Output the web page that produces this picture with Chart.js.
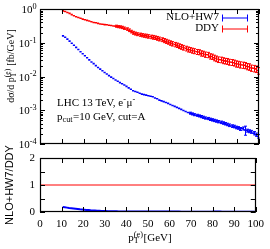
<!DOCTYPE html>
<html>
<head>
<meta charset="utf-8">
<script src="https://cdn.jsdelivr.net/npm/chart.js@4/dist/chart.umd.min.js"></script>
<style>
  html, body { margin: 0; padding: 0; background: #fff; }
  #wrap { position: relative; width: 270px; height: 249px; overflow: hidden; }
  canvas { position: absolute; left: 0; }
  #topChart { top: 0; }
  #ratioChart { top: 130px; }
</style>
</head>
<body>
<div id="wrap">
  <canvas id="topChart" width="270" height="150"></canvas>
  <canvas id="ratioChart" width="270" height="119"></canvas>
</div>
<script>
// bin centres in p_T(e) [GeV], 1 GeV bins from 10 to 100
var ptBins = [10.5, 11.5, 12.5, 13.5, 14.5, 15.5, 16.5, 17.5, 18.5, 19.5,
              20.5, 21.5, 22.5, 23.5, 24.5, 25.5, 26.5, 27.5, 28.5, 29.5,
              30.5, 31.5, 32.5, 33.5, 34.5, 35.5, 36.5, 37.5, 38.5, 39.5,
              40.5, 41.5, 42.5, 43.5, 44.5, 45.5, 46.5, 47.5, 48.5, 49.5,
              50.5, 51.5, 52.5, 53.5, 54.5, 55.5, 56.5, 57.5, 58.5, 59.5,
              60.5, 61.5, 62.5, 63.5, 64.5, 65.5, 66.5, 67.5, 68.5, 69.5,
              70.5, 71.5, 72.5, 73.5, 74.5, 75.5, 76.5, 77.5, 78.5, 79.5,
              80.5, 81.5, 82.5, 83.5, 84.5, 85.5, 86.5, 87.5, 88.5, 89.5,
              90.5, 91.5, 92.5, 93.5, 94.5, 95.5, 96.5, 97.5, 98.5, 99.5];

// DDY  dsigma/dpT [fb/GeV]
var ddyValues = [0.88, 0.84, 0.79, 0.74, 0.68, 0.63, 0.59, 0.56, 0.53, 0.50,
                 0.48, 0.46, 0.44, 0.42, 0.40, 0.39, 0.375, 0.36, 0.355, 0.345,
                 0.34, 0.33, 0.325, 0.315, 0.31, 0.30, 0.295, 0.285, 0.27, 0.255,
                 0.235, 0.215, 0.198, 0.188, 0.18, 0.174, 0.168, 0.163, 0.16, 0.155,
                 0.15, 0.146, 0.142, 0.136, 0.13, 0.124, 0.117, 0.111, 0.105, 0.099,
                 0.094, 0.089, 0.085, 0.080, 0.076, 0.072, 0.068, 0.064, 0.062, 0.059,
                 0.057, 0.054, 0.053, 0.049, 0.048, 0.045, 0.044, 0.040, 0.039, 0.036,
                 0.034, 0.032, 0.0315, 0.030, 0.029, 0.0285, 0.027, 0.0265, 0.0255, 0.024,
                 0.0235, 0.0225, 0.022, 0.0215, 0.020, 0.0195, 0.018, 0.0175, 0.0168, 0.015];
// relative errors of DDY
var ddyErrors = [0.02, 0.02, 0.02, 0.025, 0.025, 0.025, 0.03, 0.03, 0.03, 0.035,
                 0.035, 0.04, 0.04, 0.04, 0.045, 0.045, 0.05, 0.05, 0.05, 0.055,
                 0.06, 0.06, 0.065, 0.06, 0.07, 0.07, 0.075, 0.08, 0.08, 0.085,
                 0.09, 0.09, 0.1, 0.1, 0.1, 0.11, 0.11, 0.11, 0.12, 0.12,
                 0.12, 0.13, 0.12, 0.13, 0.13, 0.13, 0.14, 0.14, 0.14, 0.15,
                 0.15, 0.15, 0.15, 0.16, 0.16, 0.16, 0.16, 0.17, 0.16, 0.17,
                 0.17, 0.17, 0.17, 0.18, 0.17, 0.18, 0.18, 0.18, 0.18, 0.19,
                 0.19, 0.19, 0.19, 0.2, 0.19, 0.2, 0.2, 0.2, 0.2, 0.21,
                 0.2, 0.21, 0.21, 0.21, 0.21, 0.22, 0.21, 0.22, 0.22, 0.22];

// NLO+HW7  dsigma/dpT [fb/GeV]
var nloValues = [0.16, 0.145, 0.128, 0.112, 0.097, 0.084, 0.073, 0.063, 0.054, 0.047,
                 0.041, 0.036, 0.031, 0.027, 0.024, 0.021, 0.0185, 0.0165, 0.0148, 0.0132,
                 0.0118, 0.0106, 0.0096, 0.0087, 0.0079, 0.0072, 0.0066, 0.0061, 0.0056, 0.0051,
                 0.0046, 0.0042, 0.0038, 0.0036, 0.0034, 0.0032, 0.0030, 0.0029, 0.0028, 0.0027,
                 0.0026, 0.0025, 0.0023, 0.0022, 0.0020, 0.0019, 0.0018, 0.0017, 0.0016, 0.00148,
                 0.00138, 0.0013, 0.00122, 0.00114, 0.00106, 0.00098, 0.00092, 0.00086, 0.00082, 0.00078,
                 0.00074, 0.00071, 0.00068, 0.00065, 0.00062, 0.00059, 0.00057, 0.00054, 0.00052, 0.0005,
                 0.00048, 0.00046, 0.00044, 0.00042, 0.0004, 0.00038, 0.00036, 0.00034, 0.00033, 0.00031,
                 0.0003, 0.00028, 0.00029, 0.00026, 0.00025, 0.00024, 0.00023, 0.00021, 0.00019, 0.00017];
// relative errors of NLO+HW7
var nloErrors = [0.01, 0.01, 0.01, 0.01, 0.01, 0.01, 0.01, 0.015, 0.015, 0.015,
                 0.015, 0.015, 0.02, 0.02, 0.02, 0.02, 0.02, 0.02, 0.025, 0.025,
                 0.025, 0.025, 0.03, 0.03, 0.03, 0.03, 0.03, 0.035, 0.035, 0.035,
                 0.035, 0.04, 0.04, 0.04, 0.04, 0.04, 0.045, 0.045, 0.045, 0.045,
                 0.05, 0.05, 0.05, 0.05, 0.05, 0.055, 0.055, 0.055, 0.055, 0.06,
                 0.06, 0.06, 0.06, 0.06, 0.065, 0.065, 0.065, 0.065, 0.07, 0.07,
                 0.07, 0.07, 0.07, 0.075, 0.075, 0.075, 0.075, 0.08, 0.08, 0.08,
                 0.08, 0.08, 0.085, 0.085, 0.085, 0.085, 0.09, 0.09, 0.09, 0.09,
                 0.09, 0.1, 0.1, 0.3, 0.1, 0.1, 0.1, 0.11, 0.11, 0.12];

// reference line of the ratio panel (DDY/DDY)
var ddyRatioX = [0, 100];
var ddyRatio = [1, 1];

var xTickValues = [0, 10, 20, 30, 40, 50, 60, 70, 80, 90, 100];
var logDecades = [-4, -3, -2, -1, 0];
var ratioTicks = [0, 0.5, 1, 1.5, 2];

var RED = "rgb(255,0,0)";
var BLUE = "rgb(0,0,255)";
var SERIF = "'Liberation Serif', 'DejaVu Serif', serif";
var SANS = "'Liberation Sans', 'DejaVu Sans', sans-serif";

// text with sub/superscripts: strings are normal, {u:..} sup, {d:..} sub, both stacked
function partWidth(ctx, p, size, fam) {
    if (typeof p === "string") {
        ctx.font = size + "px " + fam;
        return ctx.measureText(p).width;
    }
    ctx.font = (size * 0.75) + "px " + fam;
    var w = 0;
    if (p.u) w = Math.max(w, ctx.measureText(p.u).width);
    if (p.d) w = Math.max(w, ctx.measureText(p.d).width);
    return w + 0.5;
}

function drawRich(ctx, parts, x, y, size, fam, align) {
    var total = 0;
    parts.forEach(function(p) { total += partWidth(ctx, p, size, fam); });
    var cx = x;
    if (align === "center") cx = x - total / 2;
    if (align === "right") cx = x - total;
    ctx.textAlign = "left";
    ctx.textBaseline = "alphabetic";
    parts.forEach(function(p) {
        var w = partWidth(ctx, p, size, fam);
        if (typeof p === "string") {
            ctx.font = size + "px " + fam;
            ctx.fillText(p, cx, y);
        } else {
            ctx.font = (size * 0.75) + "px " + fam;
            if (p.u) ctx.fillText(p.u, cx, y - size * 0.38);
            if (p.d) ctx.fillText(p.d, cx, y + size * 0.22);
        }
        cx += w;
    });
}

function hline(ctx, x0, y0, x1, y1) {
    ctx.beginPath();
    ctx.moveTo(x0, y0);
    ctx.lineTo(x1, y1);
    ctx.stroke();
}

// gnuplot-like box with inward ticks on all four sides
function drawFrame(chart, yTicks) {
    var ctx = chart.ctx, a = chart.chartArea, xs = chart.scales.x, ys = chart.scales.y;
    ctx.save();
    ctx.strokeStyle = "#000";
    ctx.lineWidth = 1;
    xTickValues.forEach(function(v) {
        var p = Math.round(xs.getPixelForValue(v)) + 0.5;
        hline(ctx, p, a.bottom, p, a.bottom - 5);
        hline(ctx, p, a.top, p, a.top + 5);
    });
    yTicks.forEach(function(t) {
        var p = Math.round(ys.getPixelForValue(t[0])) + 0.5;
        hline(ctx, a.left, p, a.left + t[1], p);
        hline(ctx, a.right, p, a.right - t[1], p);
    });
    ctx.lineWidth = 1.2;
    ctx.strokeRect(Math.round(a.left) + 0.5, Math.round(a.top) + 0.5,
                   Math.round(a.right - a.left) - 1, Math.round(a.bottom - a.top) - 1);
    ctx.restore();
}

// bins drawn as short horizontal lines broken between bins
function binSegments(values) {
    var pts = [];
    ptBins.forEach(function(c, i) {
        pts.push({x: c - 0.5, y: values[i]});
        pts.push({x: c + 0.5, y: values[i]});
        pts.push({x: c, y: null});
    });
    return pts;
}

var topPlugin = {
    id: "topDecor",
    afterDatasetsDraw: function(chart) {
        var ctx = chart.ctx, xs = chart.scales.x, ys = chart.scales.y;
        // error bars
        [[ddyValues, ddyErrors, RED], [nloValues, nloErrors, BLUE]].forEach(function(s) {
            ctx.save();
            ctx.strokeStyle = s[2];
            ctx.lineWidth = 1;
            ptBins.forEach(function(c, i) {
                var v = s[0][i], e = v * s[1][i];
                var px = Math.round(xs.getPixelForValue(c)) + 0.5;
                var yh = ys.getPixelForValue(v + e), yl = ys.getPixelForValue(v - e);
                if (yl - yh < 2) return;
                hline(ctx, px, yh, px, yl);
                hline(ctx, px - 1.5, yh, px + 1.5, yh);
                hline(ctx, px - 1.5, yl, px + 1.5, yl);
            });
            ctx.restore();
        });

        // frame and ticks
        var ticks = [];
        logDecades.forEach(function(d) {
            ticks.push([Math.pow(10, d), 5]);
            if (d < 0) {
                for (var m = 2; m <= 9; m++) ticks.push([m * Math.pow(10, d), 3]);
            }
        });
        drawFrame(chart, ticks);

        ctx.save();
        ctx.fillStyle = "#000";
        // y tick labels 10^n
        logDecades.forEach(function(d) {
            var p = ys.getPixelForValue(Math.pow(10, d));
            drawRich(ctx, ["10", {u: String(d)}], 37, p + 4, 11, SERIF, "right");
        });
        // y axis title
        ctx.save();
        ctx.translate(14, 66);
        ctx.rotate(-Math.PI / 2);
        drawRich(ctx, ["d\u03c3/d p", {d: "T", u: "(e)"}, " [fb/GeV]"], 0, 0, 10, SERIF, "center");
        ctx.restore();

        // legend
        ctx.font = "11px " + SERIF;
        ctx.textAlign = "right";
        ctx.textBaseline = "middle";
        [["NLO+HW7", BLUE, 17.5], ["DDY", RED, 28.5]].forEach(function(l) {
            ctx.fillStyle = "#000";
            ctx.fillText(l[0], 219, l[2]);
            ctx.strokeStyle = l[1];
            ctx.lineWidth = 1;
            hline(ctx, 222, l[2] + 0.5, 248, l[2] + 0.5);
            hline(ctx, 222.5, l[2] - 3, 222.5, l[2] + 4);
            hline(ctx, 247.5, l[2] - 3, 247.5, l[2] + 4);
        });

        // labels
        ctx.fillStyle = "#000";
        drawRich(ctx, ["LHC 13 TeV, e", {u: "-"}, "\u03bc", {u: "-"}], 57, 106, 11, SERIF, "left");
        drawRich(ctx, ["p", {d: "cut"}, "=10 GeV, cut=A"], 57, 120, 11, SERIF, "left");
        ctx.restore();
    }
};

var ratioPlugin = {
    id: "ratioDecor",
    afterDatasetsDraw: function(chart) {
        var ctx = chart.ctx;
        drawFrame(chart, ratioTicks.map(function(v) { return [v, 5]; }));
        ctx.save();
        ctx.fillStyle = "#000";
        drawRich(ctx, ["p", {d: "T", u: "(e)"}, "[GeV]"], 150, 111, 11, SERIF, "center");
        ctx.translate(13, 55);
        ctx.rotate(-Math.PI / 2);
        drawRich(ctx, ["NLO+HW7/DDY"], 0, 0, 11, SANS, "center");
        ctx.restore();
    }
};

var common = {
    responsive: false,
    animation: false,
    events: [],
    plugins: { legend: { display: false }, tooltip: { enabled: false }, title: { display: false } }
};

new Chart(document.getElementById("topChart"), {
    type: "scatter",
    data: {
        datasets: [
            { label: "DDY", data: binSegments(ddyValues), showLine: true, spanGaps: false,
              borderColor: RED, borderWidth: 1.6, pointRadius: 0 },
            { label: "NLO+HW7", data: binSegments(nloValues), showLine: true, spanGaps: false,
              borderColor: BLUE, borderWidth: 1.6, pointRadius: 0 }
        ]
    },
    options: Object.assign({}, common, {
        layout: { padding: { left: 0, right: 11, top: 9, bottom: 0 } },
        scales: {
            x: { type: "linear", min: 0, max: 100,
                 ticks: { display: false }, grid: { display: false, drawTicks: false },
                 border: { display: false },
                 afterFit: function(s) { s.height = 6; } },
            y: { type: "logarithmic", min: 1e-4, max: 1,
                 ticks: { display: false }, grid: { display: false, drawTicks: false },
                 border: { display: false },
                 afterFit: function(s) { s.width = 40; } }
        }
    }),
    plugins: [topPlugin]
});

var nloRatio = ptBins.map(function(c, i) { return {x: c, y: nloValues[i] / ddyValues[i]}; });

new Chart(document.getElementById("ratioChart"), {
    type: "scatter",
    data: {
        datasets: [
            { label: "DDY", data: ddyRatioX.map(function(x, i) { return {x: x, y: ddyRatio[i]}; }),
              showLine: true, borderColor: RED, borderWidth: 1, pointRadius: 0 },
            { label: "NLO+HW7", data: nloRatio,
              showLine: true, borderColor: BLUE, borderWidth: 2, pointRadius: 0 }
        ]
    },
    options: Object.assign({}, common, {
        layout: { padding: { left: 0, right: 11, top: 28, bottom: 0 } },
        scales: {
            x: { type: "linear", min: 0, max: 100,
                 ticks: { stepSize: 10, padding: 6, color: "#000", maxRotation: 0,
                          font: { family: SERIF, size: 11 } },
                 grid: { display: false, drawTicks: false },
                 border: { display: false },
                 afterFit: function(s) { s.height = 37; } },
            y: { type: "linear", min: 0, max: 2,
                 ticks: { stepSize: 0.5, padding: 5, color: "#000",
                          font: { family: SERIF, size: 11 },
                          callback: function(v) { return String(v); } },
                 grid: { display: false, drawTicks: false },
                 border: { display: false },
                 afterFit: function(s) { s.width = 40; } }
        }
    }),
    plugins: [ratioPlugin]
});
</script>
</body>
</html>
